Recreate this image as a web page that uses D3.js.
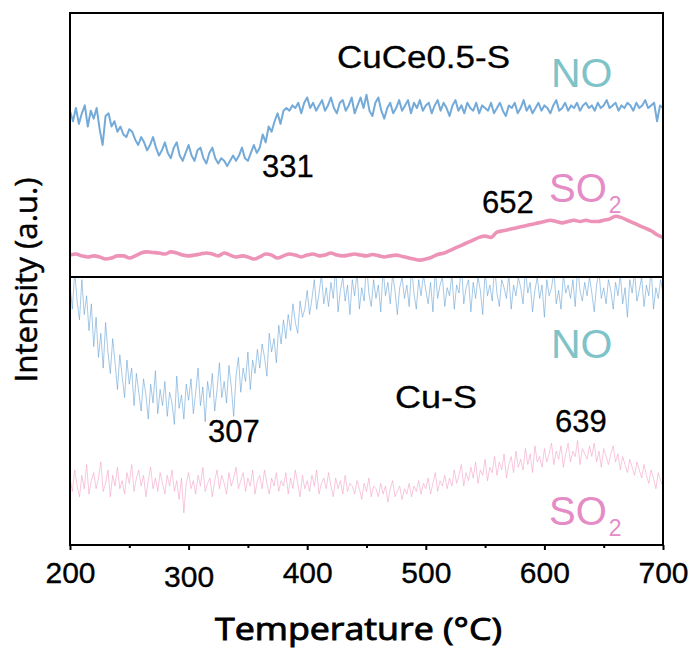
<!DOCTYPE html>
<html>
<head>
<meta charset="utf-8">
<script src="https://cdn.jsdelivr.net/npm/d3@7"></script>
<style>
  html, body { margin: 0; padding: 0; background: #fff; }
  svg { display: block; }
</style>
</head>
<body>
<svg id="chart" width="692" height="650"></svg>
<script>
// Temperature axis
const xTicks = [200, 300, 400, 500, 600, 700];
const xMinorTicks = [250, 350, 450, 550, 650];

// CuCe0.5-S, NO signal (2.5 °C steps from 200 °C)
const cuceNO = [
  63,59,64,58,62,65,57,63,60,64,56,50,61,62,57,59,55,57,54,53,
  56,55,52,50,53,51,48,50,53,49,46,48,51,47,45,49,51,46,44,47,
  50,46,44,48,49,45,43,47,49,45,43,45,44,42,44,46,44,46,49,45,
  44,47,50,47,49,54,51,57,55,59,62,58,63,64,63,65,64,66,62,66,
  68,64,66,63,65,67,63,65,68,64,62,66,67,63,65,68,62,65,68,64,
  69,63,61,66,68,63,60,64,66,62,64,67,63,65,67,62,66,64,67,63,
  65,66,62,65,67,63,66,64,61,65,67,63,65,62,66,64,63,66,62,65,
  64,63,66,62,64,66,63,61,65,64,66,62,64,67,63,65,62,64,66,63,
  65,64,62,65,67,63,64,66,63,65,64,66,63,65,66,64,65,63,66,64,
  65,67,64,65,66,63,65,64,66,65,63,66,64,65,67,64,65,66,59,65,
  64
];

// CuCe0.5-S, SO2 signal (5 °C steps from 200 °C)
const cuceSO2 = [
  8.3,8.7,8,7.6,8,7.6,6.8,7.2,8,8,
  7.2,8,9.1,9.5,9.3,9.1,8.7,9.5,9.1,8.3,
  8,8.3,8.7,9.1,8.7,8,9.1,8.3,7.6,8,
  7.6,6.8,7.6,8.7,8.3,7.2,8,8.7,8.3,7.6,
  8.3,8.7,8,8.3,9.1,8.3,8,8.3,8.7,8.3,
  8,8.5,8.1,7.6,8,8.3,7.8,7.3,6.8,6.4,
  6.8,7.5,8.5,9,10,11,12,13,14,15,
  15.5,15,17,17.5,18,18.5,19,19.5,20,20.5,
  21,21.5,21,20.5,21,21.5,21,21.5,21,21,
  21.5,22,23,22.5,21.5,20.5,19.5,18.5,17.5,16,
  15
];

// Cu-S, NO signal (2 °C steps from 200 °C)
const cuNO = [
  97,88,102,91,84,99,86,93,80,90,
  74,85,70,79,66,83,72,64,77,68,
  58,71,63,55,69,60,66,52,64,57,
  50,62,56,47,60,53,65,49,58,52,
  61,48,57,53,45,63,51,56,47,60,
  54,62,49,57,66,52,59,46,61,55,
  64,50,58,68,55,61,53,67,59,48,
  63,70,57,66,61,72,58,69,64,73,
  66,75,70,63,79,72,77,68,82,75,
  84,77,86,80,90,83,79,91,85,88,
  95,86,92,99,88,94,101,90,96,89,
  98,92,104,87,95,100,91,97,86,99,
  93,102,88,96,91,105,94,89,99,92,
  97,87,103,93,98,90,101,95,86,96,
  100,92,97,89,104,94,88,99,93,101,
  95,90,98,87,103,92,97,100,89,96,
  93,101,88,97,94,105,90,96,99,87,
  98,92,100,95,86,102,93,97,91,104,
  94,89,99,96,92,101,88,97,93,100,
  96,90,103,94,98,87,95,100,92,97,
  85,99,93,96,102,90,95,88,101,94,
  97,92,99,89,104,95,91,98,93,100,
  94,87,97,102,92,96,90,99,95,88,
  98,93,101,90,96,85,99,94,102,91,
  95,100,89,97,93,103,88,96,92,99,
  94
];

// Cu-S, SO2 signal (2 °C steps from 200 °C)
const cuSO2 = [
  25,20,28,22,18,26,21,30,19,24,
  27,21,25,31,20,23,28,18,26,22,
  29,21,24,19,27,23,30,20,25,28,
  22,26,18,24,29,21,25,20,27,23,
  19,26,22,28,20,24,17,25,12,23,
  27,21,24,19,26,22,29,20,23,25,
  18,24,28,21,26,23,19,27,22,25,
  29,21,24,27,20,25,22,28,19,24,
  26,21,28,23,19,25,22,27,20,24,
  22,27,19,25,21,28,23,18,26,21,
  24,20,26,22,28,19,23,25,21,27,
  22,18,25,21,24,19,26,20,23,22,
  19,24,21,17,23,20,25,18,22,21,
  18,23,19,22,16,21,24,18,20,22,
  17,21,19,23,18,22,20,24,19,23,
  21,25,19,23,27,20,24,22,26,21,
  25,22,28,23,26,30,22,27,24,29,
  25,31,23,28,26,32,24,29,27,33,
  26,31,28,34,25,30,33,27,35,29,
  32,28,36,30,34,27,37,31,33,29,
  36,31,34,38,30,35,32,37,29,34,
  38,31,35,33,39,30,36,34,32,37,
  33,38,31,35,29,36,33,30,34,37,
  31,34,28,33,30,27,32,29,26,31,
  28,25,30,26,23,28,25,21,27,24,
  22
];

// Peak / valley annotations
const peakLabels = [
  { panel: "top", text: "331" },
  { panel: "top", text: "652" },
  { panel: "bottom", text: "307" },
  { panel: "bottom", text: "639" }
];

const svg = d3.select("#chart");
const plotL = 70, plotR = 663, plotT = 13, plotM = 277, plotB = 545;

const x = d3.scaleLinear().domain([200, 700]).range([plotL, plotR]);
const yTop = d3.scaleLinear().domain([0, 100]).range([plotM, plotT]);
const yBot = d3.scaleLinear().domain([0, 100]).range([plotB, plotM]);

const defs = svg.append("defs");
defs.append("clipPath").attr("id", "clipTop")
  .append("rect").attr("x", plotL).attr("y", plotT).attr("width", plotR - plotL).attr("height", plotM - plotT);
defs.append("clipPath").attr("id", "clipBot")
  .append("rect").attr("x", plotL).attr("y", plotM).attr("width", plotR - plotL).attr("height", plotB - plotM);

function series(values, start, step) {
  return values.map((v, i) => [start + i * step, v]);
}

function drawLine(data, yScale, clip, color, width, opacity, curve) {
  const line = d3.line().x(d => x(d[0])).y(d => yScale(d[1]));
  if (curve) line.curve(curve);
  svg.append("path")
    .datum(data)
    .attr("clip-path", `url(#${clip})`)
    .attr("fill", "none")
    .attr("stroke", color)
    .attr("stroke-width", width)
    .attr("stroke-opacity", opacity)
    .attr("stroke-linejoin", "round")
    .attr("d", line);
}

// Bottom panel: Cu-S (thin, noisy traces)
drawLine(series(cuSO2, 200, 2), yBot, "clipBot", "#F29BC4", 0.7, 0.8);
drawLine(series(cuNO, 200, 2), yBot, "clipBot", "#5E9DD3", 0.7, 0.8);

// Top panel: CuCe0.5-S
drawLine(series(cuceSO2, 200, 5), yTop, "clipTop", "#EE93B8", 3.6, 1, d3.curveMonotoneX);
drawLine(series(cuceNO, 200, 2.5), yTop, "clipTop", "#74AAD8", 2, 1);

// Frame and panel divider
svg.append("rect")
  .attr("x", plotL).attr("y", plotT)
  .attr("width", plotR - plotL).attr("height", plotB - plotT)
  .attr("fill", "none").attr("stroke", "#000").attr("stroke-width", 2);
svg.append("line")
  .attr("x1", plotL).attr("x2", plotR).attr("y1", plotM).attr("y2", plotM)
  .attr("stroke", "#000").attr("stroke-width", 2);

// Temperature axis
const axis = d3.axisBottom(x).tickValues(xTicks).tickSize(5).tickPadding(6)
  .tickFormat(d3.format("d"));
const gAxis = svg.append("g").attr("transform", `translate(0,${plotB})`).call(axis);
gAxis.select(".domain").remove();
gAxis.selectAll(".tick line").attr("stroke", "#000").attr("stroke-width", 2);
gAxis.selectAll(".tick text")
  .attr("font-family", "'Liberation Sans', Arial, sans-serif")
  .attr("font-size", 30)
  .attr("fill", "#000")
  .attr("stroke", "#000").attr("stroke-width", 0.35)
  .attr("y", 38)
  .attr("dy", d => d === 300 ? 4 : 0);

const minorAxis = d3.axisBottom(x).tickValues(xMinorTicks).tickSize(3).tickFormat("");
const gMinor = svg.append("g").attr("transform", `translate(0,${plotB})`).call(minorAxis);
gMinor.select(".domain").remove();
gMinor.selectAll(".tick line").attr("stroke", "#000").attr("stroke-width", 2);

const titleFont = "'Open Sans', 'Noto Sans', sans-serif";

svg.append("text")
  .attr("x", (215 + 502) / 2).attr("y", 640)
  .attr("text-anchor", "middle")
  .attr("font-family", titleFont).attr("font-size", 31)
  .attr("stroke", "#000").attr("stroke-width", 0.9)
  .attr("textLength", 287).attr("lengthAdjust", "spacingAndGlyphs")
  .text("Temperature (°C)");

svg.append("text")
  .attr("transform", "translate(37,280) rotate(-90)")
  .attr("text-anchor", "middle")
  .attr("font-family", titleFont).attr("font-size", 31)
  .attr("stroke", "#000").attr("stroke-width", 0.5)
  .attr("textLength", 205).attr("lengthAdjust", "spacingAndGlyphs")
  .text("Intensity (a.u.)");

// Sample names
const labelFont = "'Liberation Sans', Arial, sans-serif";
svg.append("text")
  .attr("x", 337).attr("y", 68)
  .attr("font-family", labelFont).attr("font-size", 31)
  .attr("stroke", "#000").attr("stroke-width", 0.3)
  .attr("textLength", 173).attr("lengthAdjust", "spacingAndGlyphs")
  .text("CuCe0.5-S");
svg.append("text")
  .attr("x", 395).attr("y", 408)
  .attr("font-family", labelFont).attr("font-size", 32)
  .attr("stroke", "#000").attr("stroke-width", 0.3)
  .attr("textLength", 82).attr("lengthAdjust", "spacingAndGlyphs")
  .text("Cu-S");

// Peak temperatures
const peakPos = {
  "331": [262, 177], "652": [482, 213], "307": [208, 442], "639": [555, 432]
};
peakLabels.forEach(p => {
  const [px, py] = peakPos[p.text];
  svg.append("text")
    .attr("x", px).attr("y", py)
    .attr("font-family", labelFont).attr("font-size", 31)
    .attr("fill", "#000")
    .attr("stroke", "#000").attr("stroke-width", 0.3)
    .text(p.text);
});

// Gas labels
function noLabel(px, py) {
  svg.append("text")
    .attr("x", px).attr("y", py)
    .attr("font-family", labelFont).attr("font-size", 41)
    .attr("fill", "#7EC3C7")
    .text("NO");
}
function so2Label(px, py) {
  const t = svg.append("text")
    .attr("x", px).attr("y", py)
    .attr("font-family", labelFont).attr("font-size", 40)
    .attr("fill", "#E58BC6");
  t.append("tspan").text("SO");
  t.append("tspan").attr("font-size", 23).attr("dy", 11).attr("dx", 2).text("2");
}
noLabel(551, 87);
noLabel(551, 358);
so2Label(549, 202);
so2Label(549, 525);
</script>
</body>
</html>
